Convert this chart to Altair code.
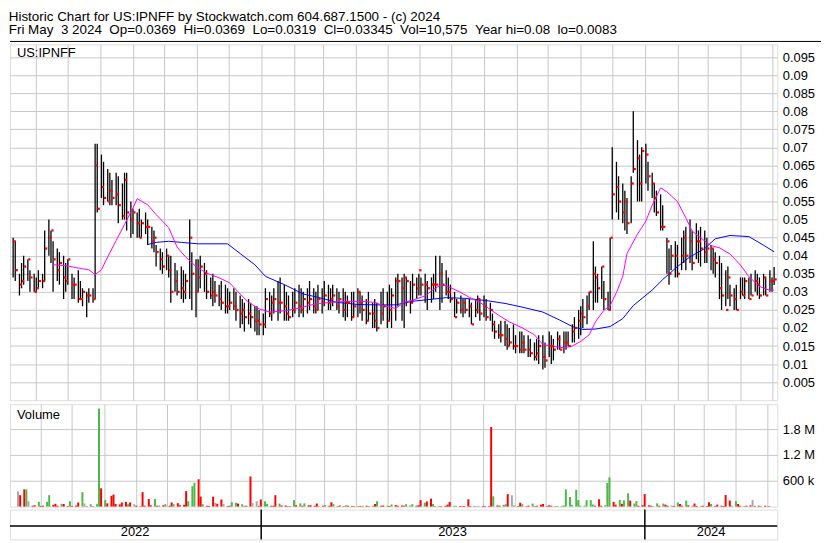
import altair as alt
import pandas as pd

title_line1 = "Historic Chart for US:IPNFF by Stockwatch.com 604.687.1500 - (c) 2024"
title_line2 = "Fri May  3 2024  Op=0.0369  Hi=0.0369  Lo=0.0319  Cl=0.03345  Vol=10,575  Year hi=0.08  lo=0.0083"
symbol_label = "US:IPNFF"
volume_label = "Volume"

price_ticks = [0.005, 0.01, 0.015, 0.02, 0.025, 0.03, 0.035, 0.04, 0.045, 0.05,
               0.055, 0.06, 0.065, 0.07, 0.075, 0.08, 0.085, 0.09, 0.095]
volume_ticks = [600000, 1200000, 1800000]
years = [2022, 2023, 2024]

high = [.045,.044,.035,.038,.040,.039,.036,.035,.034,.036,
        .035,.047,.050,.047,.044,.042,.041,.040,.038,.039,
        .035,.034,.036,.033,.031,.030,.031,.031,.071,.071,
        .068,.066,.064,.063,.061,.063,.062,.060,.063,.063,
        .055,.053,.052,.053,.050,.052,.050,.048,.047,.043,
        .042,.041,.042,.040,.040,.038,.036,.037,.036,.035,
        .050,.041,.039,.039,.040,.038,.036,.034,.035,.033,
        .032,.033,.032,.031,.030,.031,.030,.029,.028,.027,
        .028,.027,.026,.026,.025,.024,.031,.030,.029,.031,
        .033,.034,.032,.030,.029,.030,.031,.032,.031,.030,
        .031,.033,.031,.030,.032,.031,.033,.032,.031,.032,
        .031,.030,.031,.030,.029,.030,.030,.031,.030,.029,
        .028,.030,.027,.028,.027,.030,.031,.030,.032,.031,
        .034,.035,.034,.035,.034,.033,.035,.034,.035,.034,
        .035,.033,.034,.035,.040,.040,.038,.036,.034,.032,
        .030,.028,.029,.028,.028,.028,.027,.028,.029,.028,
        .029,.028,.027,.024,.022,.021,.022,.022,.021,.020,
        .021,.018,.019,.019,.018,.018,.017,.016,.017,.018,
        .018,.016,.019,.018,.017,.019,.018,.019,.019,.019,
        .021,.023,.025,.026,.028,.029,.030,.044,.037,.035,
        .037,.033,.030,.045,.070,.066,.062,.060,.058,.056,
        .062,.080,.072,.068,.070,.071,.066,.063,.060,.058,
        .057,.054,.045,.042,.043,.044,.043,.045,.047,.048,
        .050,.047,.049,.047,.048,.047,.045,.043,.042,.041,
        .040,.038,.036,.037,.032,.031,.032,.034,.034,.034,
        .034,.035,.036,.035,.034,.035,.034,.036,.034,.0369]

low = [.034,.033,.029,.031,.032,.033,.030,.030,.030,.031,
       .031,.033,.040,.038,.030,.033,.032,.028,.030,.032,
       .028,.028,.027,.028,.026,.023,.027,.027,.028,.052,
       .056,.054,.055,.054,.054,.054,.049,.050,.050,.047,
       .045,.046,.045,.045,.045,.046,.043,.042,.041,.037,
       .036,.035,.036,.034,.027,.030,.029,.028,.027,.028,
       .028,.025,.023,.030,.031,.030,.028,.028,.026,.027,
       .026,.025,.024,.024,.025,.025,.022,.020,.021,.019,
       .021,.020,.019,.018,.018,.018,.020,.023,.022,.024,
       .022,.024,.022,.022,.022,.023,.024,.023,.024,.023,
       .024,.025,.024,.024,.025,.024,.026,.025,.025,.026,
       .025,.024,.023,.022,.023,.022,.023,.023,.024,.022,
       .021,.022,.020,.020,.019,.021,.022,.020,.022,.020,
       .022,.026,.022,.020,.026,.024,.027,.028,.029,.029,
       .027,.025,.027,.028,.030,.025,.027,.029,.028,.027,
       .023,.024,.024,.023,.024,.023,.021,.023,.024,.022,
       .023,.022,.022,.019,.017,.017,.016,.015,.014,.015,
       .014,.013,.013,.013,.013,.012,.012,.011,.011,.010,
       .0085,.009,.012,.010,.011,.014,.014,.013,.014,.015,
       .016,.016,.017,.018,.020,.021,.025,.025,.027,.027,
       .028,.025,.025,.025,.050,.052,.050,.049,.047,.046,
       .049,.063,.055,.055,.055,.060,.058,.056,.052,.051,
       .047,.047,.035,.032,.036,.034,.034,.036,.038,.036,
       .038,.036,.039,.038,.037,.038,.038,.036,.035,.034,
       .028,.025,.026,.028,.026,.025,.025,.028,.029,.028,
       .028,.029,.030,.029,.028,.029,.029,.030,.030,.0319]

close = [.044,.036,.032,.033,.037,.039,.034,.030,.031,.033,
         .033,.042,.045,.047,.039,.036,.038,.034,.033,.039,
         .032,.032,.028,.028,.030,.029,.029,.028,.065,.053,
         .059,.056,.055,.058,.056,.057,.054,.051,.061,.052,
         .050,.052,.049,.045,.049,.048,.048,.044,.045,.041,
         .039,.037,.040,.036,.030,.033,.030,.031,.030,.033,
         .045,.035,.030,.034,.037,.035,.030,.029,.030,.029,
         .028,.027,.026,.026,.027,.026,.025,.024,.025,.023,
         .024,.023,.022,.022,.021,.021,.028,.024,.027,.028,
         .027,.027,.026,.024,.023,.025,.027,.026,.025,.028,
         .027,.028,.026,.025,.028,.027,.029,.027,.028,.029,
         .026,.028,.025,.027,.027,.023,.026,.030,.027,.025,
         .022,.024,.024,.022,.020,.024,.026,.022,.025,.029,
         .033,.033,.031,.034,.033,.027,.032,.031,.036,.032,
         .032,.031,.032,.032,.032,.035,.032,.030,.030,.028,
         .023,.027,.025,.027,.025,.026,.021,.025,.028,.024,
         .026,.023,.025,.021,.019,.018,.018,.017,.015,.016,
         .015,.015,.014,.016,.014,.014,.013,.012,.013,.015,
         .012,.011,.015,.015,.014,.017,.014,.016,.016,.015,
         .019,.020,.022,.024,.023,.026,.030,.035,.034,.031,
         .037,.028,.025,.045,.057,.059,.055,.052,.055,.049,
         .060,.064,.067,.060,.069,.068,.062,.060,.056,.052,
         .048,.048,.044,.035,.040,.040,.035,.040,.045,.040,
         .044,.038,.044,.044,.042,.041,.042,.042,.039,.038,
         .031,.029,.025,.034,.029,.028,.025,.030,.029,.033,
         .028,.029,.033,.032,.029,.034,.029,.033,.033,.03345]

volume_k = [350,265,400,400,125,20,30,110,15,20,
            110,265,40,65,20,65,60,15,125,15,
            25,95,335,75,10,55,10,55,2280,425,
            150,75,250,280,60,50,95,110,55,95,
            55,20,10,335,20,175,30,175,20,25,
            30,55,20,95,55,80,30,40,360,125,
            475,555,635,230,55,20,15,230,90,65,
            165,60,15,20,100,90,70,55,20,20,
            700,85,125,15,165,125,65,20,20,265,
            70,25,25,10,10,150,30,75,20,75,
            30,30,20,70,10,20,35,20,100,55,
            10,25,10,30,20,15,10,10,15,20,
            20,10,20,60,125,20,25,20,15,50,
            35,20,25,20,55,25,55,20,30,150,
            90,120,185,60,10,10,10,20,45,110,
            15,20,15,10,15,170,15,10,10,10,
            15,15,15,1850,240,25,20,40,55,290,
            265,25,15,90,55,10,20,70,10,20,
            45,60,15,30,20,10,15,15,30,400,
            225,40,390,150,20,20,150,150,50,20,
            170,20,30,550,680,110,45,155,65,145,
            310,140,70,125,20,30,290,30,20,15,
            75,20,70,45,20,20,15,95,60,20,
            140,30,20,70,15,15,20,15,100,60,
            15,45,20,15,270,140,20,125,60,20,
            15,20,30,155,15,20,15,20,10,11]

volume_dir = list(
    "nrrgnrrgrr" "ggrrrgrrgr" "rrgnrgrggr" "grrrrrrrgr" "nrrrrrrgrg"
    "rgrrgrrrrg" "ggrrgrrrnr" "rnrrggrggr" "rnnrrggrrr" "grrrrgrgrg"
    "rrrrgrgrrg" "rrrgrrrrrg" "rrgrgrrgrg" "rrrrgggrrr" "grrgrrrrrr"
    "ggrrrrrrgg" "rrrrgrrggr" "ngrrgrrgrr" "rrrrrrgggg" "gggggggggr"
    "rrgggrrgrg" "grggrrrrrg" "grgrrgrgrr" "grgrrgrrrg" "rrrrrrggrr"
    "grrnrrgrgr")

ma_short_idx = [14,19,21,24,26,28,30,32,35,38,41,42,46,49,53,56,59,62,66,70,
                74,77,80,84,87,93,97,103,108,114,120,123,126,130,133,136,140,143,146,149,
                152,155,159,162,165,169,173,177,180,183,187,190,193,196,198,201,203,205,207,209,
                212,215,217,220,222,226,229,231,235,237,240,244,247,250,254,257,259]
ma_short_val = [0.0375,0.0372,0.0368,0.0364,0.0361,0.0348,0.0361,0.0397,0.0442,0.0487,
                0.0532,0.0558,0.0541,0.0514,0.0478,0.0424,0.0397,0.037,0.0352,0.0339,
                0.0325,0.0294,0.0271,0.0253,0.0244,0.0248,0.0255,0.0267,0.0271,0.0274,
                0.0273,0.0271,0.0262,0.0254,0.0271,0.0277,0.0289,0.0307,0.0321,0.0312,
                0.0298,0.0285,0.0271,0.0251,0.0235,0.0217,0.0201,0.0181,0.0154,0.015,
                0.0145,0.015,0.0163,0.0181,0.0217,0.0249,0.0262,0.0298,0.0343,0.0406,
                0.046,0.0496,0.054,0.0588,0.0577,0.055,0.0505,0.0468,0.0441,0.0428,
                0.0422,0.0405,0.0374,0.0342,0.0315,0.0304,0.0305]

ma_long_idx = [46,49,53,57,63,73,77,82,86,92,99,104,110,117,123,130,136,143,147,154,
               161,167,173,180,186,190,194,198,203,207,211,217,221,226,230,235,239,244,250,255,259]
ma_long_val = [0.0431,0.0437,0.044,0.0437,0.0433,0.0433,0.0406,0.0375,0.0343,0.032,
               0.0294,0.0285,0.0271,0.0265,0.0264,0.0264,0.0274,0.028,0.0284,0.0282,
               0.0276,0.0268,0.0258,0.0244,0.0222,0.0204,0.0196,0.0197,0.0204,0.0226,
               0.0262,0.0305,0.0334,0.037,0.0397,0.042,0.0447,0.0456,0.0453,0.0429,0.0411]

# ---- tables -------------------------------------------------------------
dates = pd.bdate_range(end="2024-05-03", periods=2 * len(close))[1::2]
date_str = [d.strftime("%Y-%m-%d") for d in dates]

df = pd.DataFrame({"date": date_str, "hi": high, "lo": low, "cl": close,
                   "vol": [v * 1000 for v in volume_k], "dir": volume_dir})
ma_s = pd.DataFrame({"date": [date_str[i] for i in ma_short_idx], "v": ma_short_val})
ma_l = pd.DataFrame({"date": [date_str[i] for i in ma_long_idx], "v": ma_long_val})

dom_start = pd.Timestamp("2022-05-07")
dom_end = pd.Timestamp("2024-05-06")
year_rows = []
for y in years:
    a = max(dom_start, pd.Timestamp(f"{y}-01-01"))
    b = min(dom_end, pd.Timestamp(f"{y + 1}-01-01"))
    year_rows.append({"year": str(y), "mid": (a + (b - a) / 2).strftime("%Y-%m-%d"),
                      "start": pd.Timestamp(f"{y}-01-01").strftime("%Y-%m-%d")})
ydf = pd.DataFrame(year_rows)
ydiv = ydf[pd.to_datetime(ydf["start"]) > dom_start]

FONT = "Liberation Sans"
W = 772
HP = 358
HV = 103
HB = 30
GRID = "#c8c8c8"

xscale = alt.Scale(domain=[alt.DateTime(year=2022, month=5, date=7),
                           alt.DateTime(year=2024, month=5, date=6)])
xaxis = alt.Axis(grid=True, gridColor=GRID, gridWidth=1, labels=False, ticks=False,
                 domain=False, title=None,
                 tickCount=alt.TimeIntervalStep(interval="month", step=1))
X = alt.X("date:T", scale=xscale, axis=xaxis)

# ---- price panel ----------------------------------------------------------
pscale = alt.Scale(domain=[0, 0.0985], nice=False, zero=True)
paxis = alt.Axis(orient="right", values=price_ticks, labelExpr="'' + datum.value",
                 labelOverlap=False, grid=True, gridColor=GRID, gridWidth=1,
                 ticks=False, domain=False, title=None, labelFont=FONT, labelFontSize=13,
                 labelColor="black", labelPadding=5)

bars = alt.Chart(df).mark_rule(color="black", strokeWidth=1.3).encode(
    x=X, y=alt.Y("lo:Q", scale=pscale, axis=paxis), y2="hi:Q")
closes = alt.Chart(df).mark_point(shape="square", filled=True, color="#ff0000", size=5,
                                  opacity=1, xOffset=1.5).encode(
    x=X, y=alt.Y("cl:Q", scale=pscale, axis=paxis))
line_s = alt.Chart(ma_s).mark_line(color="#ff00ff", strokeWidth=1).encode(
    x=X, y=alt.Y("v:Q", scale=pscale, axis=paxis))
line_l = alt.Chart(ma_l).mark_line(color="#0000ff", strokeWidth=1).encode(
    x=X, y=alt.Y("v:Q", scale=pscale, axis=paxis))
sym = alt.Chart(pd.DataFrame({"t": [symbol_label]})).mark_text(
    align="left", baseline="top", font=FONT, fontSize=13, color="black").encode(
    x=alt.value(7), y=alt.value(3), text="t:N")
topline = alt.Chart(pd.DataFrame({"t": [0]})).mark_rule(color="black", strokeWidth=1).encode(
    x=alt.value(0), x2=alt.value(W + 44), y=alt.value(-3))

price = alt.layer(bars, line_l, line_s, closes, sym, topline).properties(width=W, height=HP)

# ---- volume panel ---------------------------------------------------------
vscale = alt.Scale(domain=[0, 2380000], nice=False)
vaxis = alt.Axis(orient="right", values=volume_ticks, grid=True, gridColor=GRID,
                 ticks=False, domain=False, title=None, labelFont=FONT, labelFontSize=13,
                 labelColor="black", labelPadding=5, labelOverlap=False,
                 labelExpr="datum.value >= 1000000 ? format(datum.value / 1000000, '.1f') + ' M' : format(datum.value / 1000, 'd') + ' k'")
vbars = alt.Chart(df).mark_bar(width=2).encode(
    x=X,
    y=alt.Y("vol:Q", scale=vscale, axis=vaxis),
    color=alt.Color("dir:N", legend=None,
                    scale=alt.Scale(domain=["g", "r", "n"],
                                    range=["#4db848", "#ff0000", "#a8a8a8"])))
vlab = alt.Chart(pd.DataFrame({"t": [volume_label]})).mark_text(
    align="left", baseline="top", font=FONT, fontSize=13, color="black").encode(
    x=alt.value(7), y=alt.value(5), text="t:N")
volume = alt.layer(vbars, vlab).properties(width=W, height=HV)

# ---- year band ------------------------------------------------------------
ydivs = alt.Chart(ydiv).mark_rule(color="black", strokeWidth=1.5).encode(
    x=alt.X("start:T", scale=xscale, axis=None))
ymid = alt.Chart(pd.DataFrame({"t": [0]})).mark_rule(color="black", strokeWidth=1.5).encode(
    x=alt.value(0), x2=alt.value(W), y=alt.value(16.5))
ytext = alt.Chart(ydf).mark_text(font=FONT, fontSize=13, color="black", baseline="middle").encode(
    x=alt.X("mid:T", scale=xscale, axis=None), y=alt.value(23), text="year:N")
band = alt.layer(ydivs, ymid, ytext).properties(width=W, height=HB)

chart = alt.vconcat(
    alt.vconcat(price, volume, spacing=2),
    band, spacing=0
).properties(
    padding=0,
    title=alt.TitleParams(
        text=[title_line1.replace("  ", " \u00a0"), title_line2.replace("  ", " \u00a0")],
        anchor="start", font=FONT, fontSize=13.5, fontWeight="normal", color="black",
        lineHeight=13.5, offset=2, dy=-2),
).configure_view(stroke="black", strokeWidth=1.5).configure(background="white")

chart.save("out.html", embed_options={"renderer": "svg", "actions": False})
